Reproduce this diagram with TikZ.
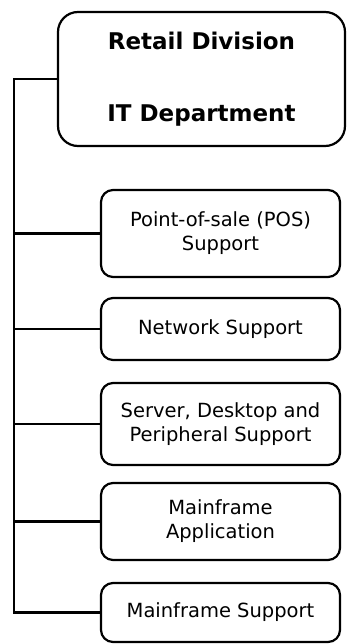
\documentclass[tikz,border=0pt]{standalone}
\usepackage{fontspec}
\setmainfont{DejaVu Sans}
\usetikzlibrary{positioning}

\begin{document}
\begin{tikzpicture}[x=1pt,y=-1pt,
    unitbox/.style={draw,line width=2.2pt,rounded corners=12pt,align=center,
      minimum width=239pt,font=\fontsize{19.5}{24}\selectfont},
    headbox/.style={draw,line width=2.2pt,rounded corners=20pt,align=center,
      minimum width=287pt,minimum height=134pt,font=\bfseries\fontsize{23}{27}\selectfont},
    link/.style={line width=2.2pt}]
    \useasboundingbox (0,0) rectangle (346,644);

    % top box
    \node[headbox] (retail) at (201.5,79) {Retail Division\\[45pt]IT Department};

    % units below
    \node[unitbox,minimum height=87pt] (pos) at (220.5,233.5) {Point-of-sale (POS)\\Support};
    \node[unitbox,minimum height=62pt] (network) at (220.5,329) {Network Support};
    \node[unitbox,minimum height=82pt] (server) at (220.5,424) {Server, Desktop and\\Peripheral Support};
    \node[unitbox,minimum height=77pt] (mainapp) at (220.5,521.5) {Mainframe\\Application};
    \node[unitbox,minimum height=59pt] (mainsup) at (220.5,612.5) {Mainframe Support};

    % trunk line
    \coordinate (trunk) at (14,79);
    \draw[link] (retail.west) -- (trunk) |- (mainsup.west);
    \draw[link] (pos.west) -- (pos.west -| trunk);
    \draw[link] (network.west) -- (network.west -| trunk);
    \draw[link] (server.west) -- (server.west -| trunk);
    \draw[link] (mainapp.west) -- (mainapp.west -| trunk);
\end{tikzpicture}
\end{document}
